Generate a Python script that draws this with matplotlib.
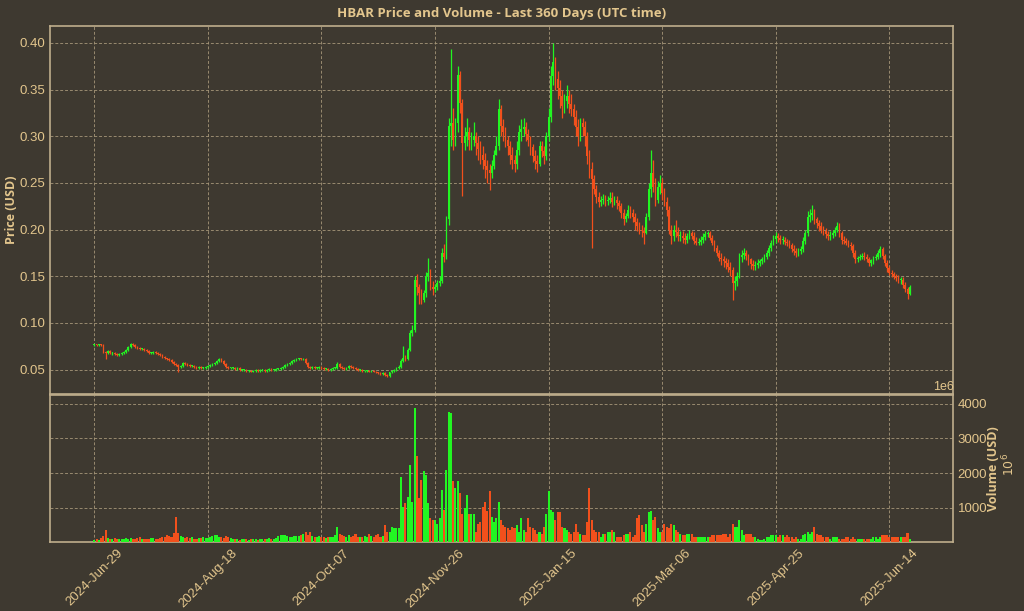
import matplotlib
matplotlib.use("Agg")
import matplotlib.pyplot as plt
import numpy as np
import pandas as pd

# ---------------- data ----------------
start_date = "2024-06-29"
first_open = 0.076

close = [
    0.077, 0.076, 0.077, 0.076, 0.069, 0.068, 0.070, 0.068, 0.068, 0.067,
    0.066, 0.067, 0.068, 0.069, 0.071, 0.074, 0.077, 0.076, 0.074, 0.073,
    0.072, 0.072, 0.071, 0.070, 0.068, 0.068, 0.069, 0.068, 0.067, 0.066,
    0.064, 0.062, 0.061, 0.060, 0.058, 0.056, 0.055, 0.053, 0.054, 0.057,
    0.056, 0.055, 0.054, 0.054, 0.053, 0.052, 0.053, 0.052, 0.052, 0.053,
    0.054, 0.055, 0.056, 0.057, 0.059, 0.061, 0.059, 0.056, 0.053, 0.052,
    0.052, 0.052, 0.051, 0.052, 0.050, 0.050, 0.050, 0.049, 0.049, 0.048,
    0.049, 0.050, 0.049, 0.050, 0.050, 0.049, 0.050, 0.051, 0.050, 0.050,
    0.051, 0.051, 0.052, 0.053, 0.055, 0.056, 0.057, 0.059, 0.060, 0.061,
    0.062, 0.061, 0.061, 0.057, 0.053, 0.052, 0.053, 0.052, 0.052, 0.053,
    0.052, 0.051, 0.051, 0.050, 0.051, 0.052, 0.052, 0.056, 0.053, 0.052,
    0.051, 0.052, 0.054, 0.053, 0.052, 0.051, 0.050, 0.050, 0.049, 0.049,
    0.049, 0.048, 0.049, 0.048, 0.047, 0.046, 0.045, 0.046, 0.044, 0.043,
    0.047, 0.049, 0.050, 0.052, 0.053, 0.059, 0.063, 0.061, 0.071, 0.089,
    0.093, 0.146, 0.139, 0.132, 0.125, 0.132, 0.150, 0.154, 0.139, 0.136,
    0.139, 0.143, 0.145, 0.175, 0.171, 0.211, 0.311, 0.314, 0.296, 0.314,
    0.366, 0.336, 0.293, 0.300, 0.304, 0.296, 0.296, 0.300, 0.293, 0.286,
    0.280, 0.275, 0.268, 0.264, 0.261, 0.268, 0.280, 0.289, 0.329, 0.311,
    0.305, 0.296, 0.290, 0.280, 0.275, 0.270, 0.285, 0.305, 0.308, 0.310,
    0.302, 0.296, 0.288, 0.279, 0.274, 0.270, 0.289, 0.284, 0.279, 0.300,
    0.321, 0.364, 0.379, 0.361, 0.352, 0.343, 0.332, 0.338, 0.343, 0.335,
    0.329, 0.321, 0.310, 0.300, 0.314, 0.310, 0.300, 0.279, 0.265, 0.254,
    0.243, 0.235, 0.230, 0.232, 0.233, 0.231, 0.232, 0.234, 0.230, 0.232,
    0.228, 0.225, 0.218, 0.211, 0.215, 0.221, 0.218, 0.214, 0.208, 0.204,
    0.200, 0.198, 0.196, 0.214, 0.243, 0.261, 0.246, 0.232, 0.246, 0.250,
    0.239, 0.230, 0.221, 0.200, 0.193, 0.200, 0.197, 0.193, 0.193, 0.191,
    0.189, 0.193, 0.196, 0.193, 0.188, 0.186, 0.187, 0.189, 0.192, 0.195,
    0.196, 0.191, 0.186, 0.180, 0.175, 0.170, 0.168, 0.166, 0.164, 0.160,
    0.157, 0.143, 0.145, 0.150, 0.171, 0.173, 0.175, 0.172, 0.168, 0.163,
    0.161, 0.162, 0.164, 0.166, 0.168, 0.171, 0.175, 0.180, 0.186, 0.190,
    0.193, 0.191, 0.189, 0.189, 0.187, 0.186, 0.183, 0.179, 0.177, 0.175,
    0.177, 0.179, 0.188, 0.196, 0.214, 0.216, 0.218, 0.211, 0.207, 0.204,
    0.200, 0.198, 0.195, 0.193, 0.194, 0.196, 0.200, 0.204, 0.196, 0.189,
    0.188, 0.186, 0.184, 0.182, 0.175, 0.168, 0.170, 0.171, 0.172, 0.171,
    0.168, 0.164, 0.167, 0.170, 0.171, 0.175, 0.179, 0.172, 0.164, 0.159,
    0.154, 0.152, 0.150, 0.148, 0.146, 0.146, 0.141, 0.136, 0.131, 0.139,
]

high = [
    0.078, 0.078, 0.078, 0.078, 0.077, 0.070, 0.071, 0.071, 0.069, 0.069,
    0.068, 0.068, 0.069, 0.070, 0.072, 0.075, 0.079, 0.079, 0.077, 0.075,
    0.074, 0.073, 0.073, 0.072, 0.071, 0.069, 0.070, 0.070, 0.069, 0.068,
    0.067, 0.065, 0.063, 0.062, 0.061, 0.059, 0.057, 0.056, 0.055, 0.058,
    0.058, 0.057, 0.056, 0.055, 0.055, 0.054, 0.054, 0.054, 0.053, 0.054,
    0.055, 0.056, 0.057, 0.058, 0.060, 0.062, 0.062, 0.060, 0.057, 0.054,
    0.053, 0.053, 0.053, 0.053, 0.053, 0.051, 0.051, 0.051, 0.050, 0.050,
    0.050, 0.051, 0.051, 0.051, 0.051, 0.051, 0.051, 0.052, 0.052, 0.051,
    0.052, 0.052, 0.053, 0.054, 0.056, 0.057, 0.058, 0.060, 0.061, 0.062,
    0.063, 0.063, 0.062, 0.062, 0.058, 0.054, 0.054, 0.054, 0.053, 0.054,
    0.054, 0.053, 0.052, 0.052, 0.052, 0.053, 0.053, 0.058, 0.057, 0.054,
    0.053, 0.053, 0.055, 0.055, 0.054, 0.053, 0.052, 0.051, 0.051, 0.050,
    0.050, 0.050, 0.050, 0.050, 0.049, 0.048, 0.047, 0.047, 0.047, 0.045,
    0.048, 0.050, 0.051, 0.053, 0.055, 0.061, 0.075, 0.066, 0.073, 0.092,
    0.098, 0.150, 0.152, 0.142, 0.136, 0.135, 0.155, 0.170, 0.158, 0.145,
    0.142, 0.146, 0.150, 0.180, 0.185, 0.215, 0.320, 0.393, 0.330, 0.320,
    0.375, 0.370, 0.340, 0.310, 0.320, 0.310, 0.305, 0.315, 0.305, 0.300,
    0.295, 0.290, 0.282, 0.275, 0.270, 0.275, 0.285, 0.300, 0.340, 0.333,
    0.318, 0.310, 0.300, 0.295, 0.288, 0.280, 0.295, 0.312, 0.318, 0.320,
    0.315, 0.308, 0.300, 0.292, 0.285, 0.280, 0.295, 0.295, 0.290, 0.305,
    0.330, 0.375, 0.400, 0.385, 0.370, 0.360, 0.350, 0.345, 0.355, 0.350,
    0.345, 0.335, 0.328, 0.318, 0.320, 0.320, 0.316, 0.305, 0.285, 0.272,
    0.258, 0.248, 0.240, 0.236, 0.238, 0.237, 0.236, 0.240, 0.240, 0.236,
    0.236, 0.232, 0.228, 0.222, 0.218, 0.226, 0.225, 0.222, 0.218, 0.212,
    0.208, 0.205, 0.203, 0.218, 0.250, 0.285, 0.275, 0.255, 0.252, 0.258,
    0.255, 0.245, 0.235, 0.225, 0.205, 0.205, 0.210, 0.203, 0.198, 0.198,
    0.196, 0.196, 0.200, 0.199, 0.197, 0.192, 0.191, 0.193, 0.196, 0.198,
    0.199, 0.199, 0.194, 0.189, 0.184, 0.178, 0.175, 0.172, 0.170, 0.168,
    0.165, 0.160, 0.150, 0.155, 0.175, 0.178, 0.180, 0.178, 0.174, 0.170,
    0.167, 0.166, 0.168, 0.169, 0.171, 0.174, 0.178, 0.183, 0.189, 0.194,
    0.197, 0.196, 0.194, 0.193, 0.192, 0.190, 0.189, 0.186, 0.183, 0.180,
    0.180, 0.182, 0.192, 0.200, 0.220, 0.222, 0.226, 0.222, 0.214, 0.210,
    0.208, 0.204, 0.202, 0.199, 0.198, 0.200, 0.203, 0.208, 0.207, 0.199,
    0.193, 0.191, 0.189, 0.187, 0.185, 0.178, 0.172, 0.174, 0.175, 0.176,
    0.174, 0.171, 0.169, 0.172, 0.174, 0.178, 0.182, 0.181, 0.174, 0.167,
    0.161, 0.157, 0.155, 0.153, 0.151, 0.149, 0.149, 0.144, 0.139, 0.141,
]

low = [
    0.075, 0.075, 0.075, 0.075, 0.068, 0.061, 0.067, 0.067, 0.066, 0.066,
    0.065, 0.065, 0.066, 0.067, 0.068, 0.070, 0.073, 0.075, 0.073, 0.072,
    0.071, 0.071, 0.070, 0.069, 0.067, 0.067, 0.067, 0.067, 0.066, 0.065,
    0.063, 0.061, 0.060, 0.059, 0.057, 0.055, 0.054, 0.047, 0.052, 0.053,
    0.055, 0.054, 0.053, 0.053, 0.052, 0.051, 0.051, 0.051, 0.051, 0.051,
    0.052, 0.053, 0.054, 0.055, 0.056, 0.058, 0.058, 0.055, 0.052, 0.051,
    0.051, 0.051, 0.050, 0.050, 0.049, 0.049, 0.049, 0.048, 0.048, 0.047,
    0.047, 0.048, 0.048, 0.048, 0.049, 0.048, 0.048, 0.049, 0.049, 0.049,
    0.049, 0.050, 0.050, 0.051, 0.052, 0.054, 0.055, 0.056, 0.058, 0.059,
    0.060, 0.060, 0.060, 0.056, 0.052, 0.051, 0.051, 0.051, 0.051, 0.051,
    0.051, 0.050, 0.050, 0.049, 0.049, 0.050, 0.051, 0.051, 0.052, 0.051,
    0.050, 0.050, 0.051, 0.052, 0.051, 0.050, 0.049, 0.049, 0.048, 0.048,
    0.048, 0.047, 0.047, 0.047, 0.046, 0.045, 0.044, 0.044, 0.043, 0.042,
    0.042, 0.046, 0.048, 0.049, 0.051, 0.052, 0.058, 0.059, 0.060, 0.070,
    0.086, 0.090, 0.130, 0.120, 0.120, 0.122, 0.128, 0.145, 0.135, 0.130,
    0.133, 0.135, 0.140, 0.143, 0.165, 0.168, 0.205, 0.290, 0.285, 0.290,
    0.305, 0.325, 0.236, 0.285, 0.290, 0.285, 0.285, 0.290, 0.280, 0.275,
    0.270, 0.265, 0.255, 0.250, 0.242, 0.255, 0.265, 0.280, 0.285, 0.300,
    0.295, 0.288, 0.280, 0.270, 0.265, 0.262, 0.265, 0.280, 0.295, 0.300,
    0.295, 0.290, 0.280, 0.272, 0.265, 0.262, 0.268, 0.278, 0.270, 0.275,
    0.295, 0.315, 0.355, 0.350, 0.340, 0.330, 0.320, 0.325, 0.330, 0.325,
    0.322, 0.312, 0.300, 0.290, 0.295, 0.300, 0.290, 0.270, 0.255, 0.180,
    0.238, 0.228, 0.224, 0.225, 0.227, 0.225, 0.226, 0.228, 0.224, 0.226,
    0.222, 0.220, 0.212, 0.205, 0.208, 0.212, 0.212, 0.208, 0.200, 0.198,
    0.195, 0.192, 0.185, 0.195, 0.210, 0.235, 0.240, 0.225, 0.228, 0.238,
    0.232, 0.225, 0.215, 0.195, 0.185, 0.188, 0.192, 0.188, 0.188, 0.186,
    0.185, 0.186, 0.190, 0.190, 0.185, 0.183, 0.183, 0.184, 0.186, 0.189,
    0.192, 0.189, 0.184, 0.177, 0.172, 0.166, 0.162, 0.160, 0.158, 0.155,
    0.150, 0.125, 0.135, 0.140, 0.148, 0.165, 0.168, 0.167, 0.162, 0.158,
    0.157, 0.157, 0.159, 0.161, 0.163, 0.165, 0.168, 0.172, 0.177, 0.183,
    0.186, 0.187, 0.185, 0.185, 0.184, 0.182, 0.180, 0.176, 0.173, 0.171,
    0.172, 0.174, 0.176, 0.185, 0.193, 0.208, 0.210, 0.206, 0.202, 0.199,
    0.196, 0.194, 0.191, 0.189, 0.189, 0.191, 0.193, 0.197, 0.192, 0.185,
    0.185, 0.183, 0.181, 0.178, 0.171, 0.164, 0.165, 0.167, 0.168, 0.167,
    0.165, 0.161, 0.161, 0.163, 0.167, 0.168, 0.171, 0.169, 0.161, 0.155,
    0.151, 0.149, 0.147, 0.145, 0.143, 0.142, 0.138, 0.133, 0.126, 0.130,
]

# volume in millions of USD
volume = [
    70, 90, 80, 120, 180, 350, 130, 110, 100, 120,
    110, 100, 90, 110, 120, 100, 130, 110, 100, 120,
    140, 110, 100, 90, 110, 130, 120, 100, 90, 130,
    150, 160, 210, 180, 150, 260, 730, 260, 180, 140,
    130, 150, 120, 140, 110, 100, 120, 130, 140, 120,
    130, 150, 180, 210, 200, 160, 140, 130, 180, 150,
    120, 110, 100, 90, 80, 90, 100, 90, 80, 90,
    100, 90, 80, 100, 90, 110, 100, 120, 110, 100,
    130, 180, 210, 200, 220, 180, 160, 150, 170, 190,
    180, 200, 250, 300, 220, 285, 180, 150, 160, 180,
    150, 140, 130, 150, 160, 140, 200, 430, 230, 200,
    180, 160, 200, 150, 170, 230, 160, 150, 140, 170,
    160, 230, 180, 150, 200, 250, 160, 180, 500, 300,
    300, 450, 400, 400, 420, 1900, 1030, 1130, 1320, 2240,
    1170, 3890, 2490, 1270, 1800, 2050, 1950, 1130, 690, 640,
    640, 540, 700, 1510, 930, 2100, 3750, 3720, 1760, 1560,
    1760, 1420, 830, 1000, 1370, 830, 830, 830, 300, 540,
    590, 1030, 1170, 900, 1470, 740, 590, 690, 1170, 640,
    500, 450, 400, 350, 450, 420, 500, 300, 690, 350,
    300, 690, 450, 400, 350, 250, 300, 250, 450, 830,
    1470, 930, 880, 640, 880, 880, 450, 400, 350, 300,
    250, 300, 540, 300, 250, 200, 200, 590, 1560, 640,
    350, 300, 300, 155, 250, 250, 300, 300, 350, 300,
    155, 155, 155, 200, 250, 250, 300, 155, 200, 690,
    790, 500, 300, 540, 880, 910, 640, 740, 400, 300,
    300, 540, 450, 400, 540, 500, 350, 300, 250, 200,
    200, 250, 250, 250, 155, 155, 155, 155, 155, 155,
    155, 155, 200, 200, 200, 200, 200, 250, 250, 155,
    250, 540, 450, 450, 640, 350, 200, 250, 250, 250,
    155, 155, 100, 60, 80, 100, 155, 155, 200, 200,
    200, 155, 200, 200, 155, 200, 155, 155, 100, 155,
    100, 100, 200, 250, 300, 250, 300, 450, 250, 200,
    200, 155, 155, 155, 100, 155, 155, 155, 100, 100,
    100, 155, 155, 100, 155, 100, 100, 100, 100, 100,
    100, 100, 100, 155, 155, 100, 155, 200, 200, 200,
    155, 155, 155, 155, 155, 155, 155, 155, 270, 100,
]

title = "HBAR Price and Volume - Last 360 Days (UTC time)"
tick_every = 50

# ---------------- styling ----------------
BG = "#3e3930"
TXT = "#e3c68d"
SPINE = "#bfae8c"
GRID = "#a8987a"
UP = "#22f522"
DOWN = "#f2501c"

n = len(close)
opens = [first_open] + close[:-1]
x = np.arange(n)
dates = pd.date_range(start_date, periods=n, freq="D")
c = np.array(close); o = np.array(opens); h = np.array(high); l = np.array(low)
up = c >= o
cols = np.where(up, UP, DOWN)

fig = plt.figure(figsize=(10.24, 6.11), dpi=100, facecolor=BG)
axp = fig.add_axes([0.0488, 0.3552, 0.8818, 0.6022], facecolor=BG)
axv = fig.add_axes([0.0488, 0.1124, 0.8818, 0.2415], facecolor=BG, sharex=axp)

# candles
axp.vlines(x, l, h, colors=cols, linewidth=0.9, zorder=3)
body_bot = np.minimum(o, c)
body_h = np.maximum(np.abs(c - o), 0.0008)
axp.bar(x, body_h, bottom=body_bot, width=0.75, color=cols, linewidth=0, zorder=4)

# volume
axv.bar(x, volume, width=0.9, color=cols, linewidth=0, zorder=3)

for ax in (axp, axv):
    ax.set_xlim(-19.5, 378)
    for s in ax.spines.values():
        s.set_color(SPINE)
        s.set_linewidth(1.2)
    ax.grid(True, color=GRID, linestyle=(0, (3, 2)), linewidth=0.7, alpha=0.85)
    ax.set_axisbelow(True)
    ax.tick_params(colors=TXT, labelcolor=TXT, labelsize=9.5, length=0)

axp.set_ylim(0.024, 0.418)
yt = [0.05, 0.10, 0.15, 0.20, 0.25, 0.30, 0.35, 0.40]
axp.set_yticks(yt)
axp.set_yticklabels([f"{v:.2f}" for v in yt], family="Liberation Sans")
axp.set_ylabel("Price (USD)", color=TXT, fontsize=9, fontweight="bold",
               family="Open Sans")
axp.yaxis.set_label_coords(-0.0354, 0.5)
plt.setp(axp.get_xticklabels(), visible=False)

axv.set_ylim(0, 4260)
axv.yaxis.tick_right()
axv.yaxis.set_label_position("right")
vt = [1000, 2000, 3000, 4000]
axv.set_yticks(vt)
axv.set_yticklabels([str(v) for v in vt], family="Liberation Sans")
axv.set_ylabel("Volume (USD)", color=TXT, fontsize=9, fontweight="bold",
               family="Open Sans")
axv.yaxis.set_label_coords(1.0377, 0.5)
fig.text(0.985, 0.239, "$10^{6}$", color=TXT, fontsize=9, rotation=90,
         ha="center", va="center")
fig.text(0.921, 0.366, "1e6", color=TXT, fontsize=9, family="Liberation Sans",
         ha="center", va="center")

ticks = list(range(0, n, tick_every))
axv.set_xticks(ticks)
axv.set_xticklabels([dates[t].strftime("%Y-%b-%d") for t in ticks],
                    rotation=45, family="Liberation Sans", fontsize=9.5)

fig.text(0.49, 0.978, title, color=TXT, fontsize=9.5, fontweight="bold",
         family="Open Sans", ha="center", va="center")

fig.savefig("out.png", dpi=100, facecolor=BG)
